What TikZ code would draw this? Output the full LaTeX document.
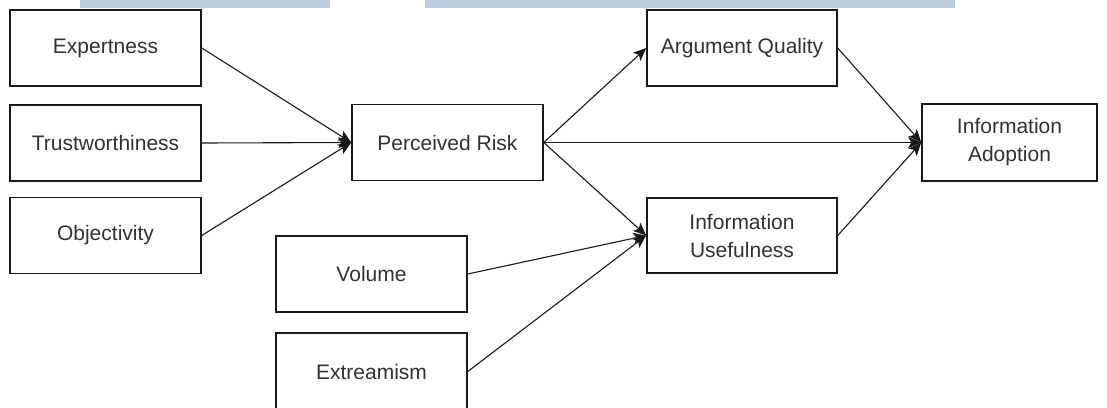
\documentclass[tikz,border=0pt]{standalone}
\usepackage{fontspec}
\setmainfont{Liberation Sans}
\usetikzlibrary{arrows.meta}
\definecolor{barblue}{RGB}{190,205,220}
\definecolor{txtgray}{RGB}{50,50,50}
\definecolor{linegray}{RGB}{25,25,25}
\begin{document}
\begin{tikzpicture}[x=1pt,y=-1pt,
  box/.style={draw=linegray, line width=1.5pt, fill=white, minimum height=76pt, minimum width=191pt,
    inner sep=0pt, align=center, text=txtgray, font=\fontsize{21}{28}\selectfont},
  conn/.style={draw=linegray, line width=1.1pt, -{Stealth[length=13pt,width=11pt,inset=3pt]}}]
\useasboundingbox (0,0) rectangle (1107,407);
\clip (0,0) rectangle (1107,407);
\fill[white] (0,0) rectangle (1107,407);
\fill[barblue] (80,0) rectangle (330,8);
\fill[barblue] (425,0) rectangle (955,8);
\node[box] (e) at (105.5,48) {Expertness};
\node[box] (t) at (105.5,143) {Trustworthiness};
\node[box] (o) at (105.5,235.5) {Objectivity};
\node[box] (pr) at (447.5,142.5) {Perceived Risk};
\node[box, minimum width=190pt] (aq) at (742,48) {Argument Quality};
\node[box, minimum width=190pt, minimum height=75pt] (iu) at (742,235.5) {Information\\Usefulness};
\node[box, minimum width=175pt, minimum height=77pt] (ia) at (1009.5,142.5) {Information\\Adoption};
\node[box] (v) at (371.5,274) {Volume};
\node[box, minimum height=77pt] (x) at (371.5,371.5) {Extreamism};
\draw[conn] (e.east) -- (pr.west);
\draw[conn] (t.east) -- (pr.west);
\draw[conn] (o.east) -- (pr.west);
\draw[conn] (pr.east) -- (aq.west);
\draw[conn] (pr.east) -- (ia.west);
\draw[conn] (pr.east) -- (iu.west);
\draw[conn] (v.east) -- (iu.west);
\draw[conn] (x.east) -- (iu.west);
\draw[conn] (aq.east) -- (ia.west);
\draw[conn] (iu.east) -- (ia.west);
\end{tikzpicture}
\end{document}
